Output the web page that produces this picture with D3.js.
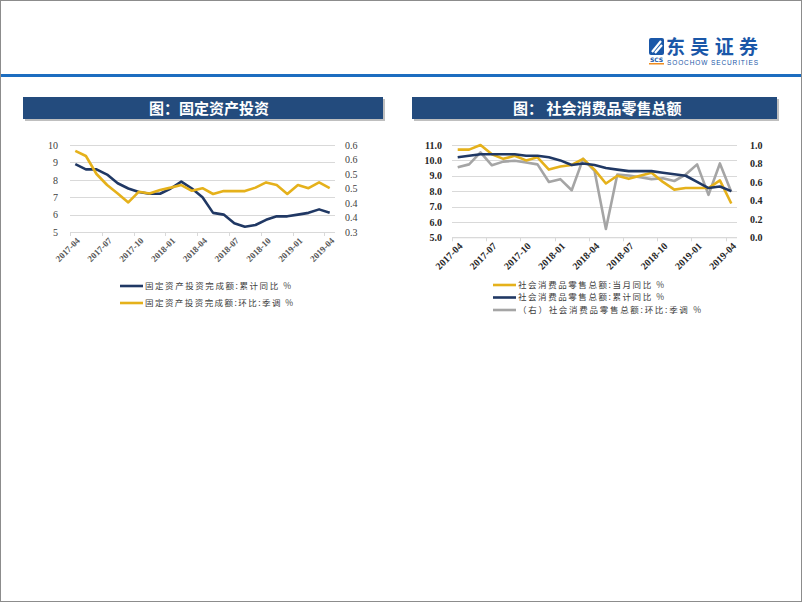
<!DOCTYPE html>
<html>
<head>
<meta charset="utf-8">
<script src="https://cdn.jsdelivr.net/npm/d3@7/dist/d3.min.js"></script>
<style>
  body { margin: 0; background: #fff; }
  svg { display: block; }
</style>
</head>
<body>
<div id="page"></div>
<script>
// month categories shared by both charts
const months = ["2017-04","2017-05","2017-06","2017-07","2017-08","2017-09","2017-10","2017-11","2017-12",
  "2018-01","2018-02","2018-03","2018-04","2018-05","2018-06","2018-07","2018-08","2018-09","2018-10",
  "2018-11","2018-12","2019-01","2019-02","2019-03","2019-04"];

// left chart: fixed asset investment
const faiCumYoY = [8.9,8.6,8.6,8.3,7.8,7.5,7.3,7.2,7.2,7.5,7.9,7.5,7.0,6.1,6.0,5.5,5.3,5.4,5.7,5.9,5.9,6.0,6.1,6.3,6.1];
const faiMoM = [0.58,0.562,0.5,0.462,0.433,0.402,0.439,0.433,0.445,0.453,0.462,0.442,0.451,0.431,0.441,0.441,0.441,0.453,0.471,0.462,0.431,0.462,0.451,0.471,0.451];
const faiLeftTicks = [5,6,7,8,9,10];
const faiRightTicks = [0.3,0.35,0.4,0.45,0.5,0.55,0.6];
const faiRightLabels = ["0.3","0.4","0.4","0.5","0.5","0.6","0.6"];

// right chart: retail sales
const retailYoY = [10.7,10.7,11.0,10.4,10.1,10.3,10.0,10.2,9.4,9.6,9.7,10.1,9.4,8.5,9.0,8.8,9.0,9.2,8.6,8.1,8.2,8.2,8.2,8.7,7.2];
const retailCumYoY = [10.2,10.3,10.4,10.4,10.4,10.4,10.3,10.3,10.2,10.0,9.7,9.8,9.7,9.5,9.4,9.3,9.3,9.3,9.2,9.1,9.0,8.6,8.2,8.3,8.0];
const retailMoM = [0.76,0.79,0.92,0.78,0.82,0.83,0.81,0.79,0.60,0.63,0.51,0.85,0.72,0.09,0.68,0.67,0.65,0.63,0.64,0.61,0.68,0.79,0.46,0.80,0.49];
const retailLeftTicks = [5,6,7,8,9,10,11];
const retailRightTicks = [0,0.2,0.4,0.6,0.8,1.0];

const NAVY = "#203864", GOLD = "#e5b11b", GREY = "#a5a5a5";
const CJK = "'Noto Sans CJK SC', sans-serif";
const SERIF = "'Liberation Serif', 'DejaVu Serif', serif";

const svg = d3.select("#page").append("svg")
  .attr("width", 802)
  .attr("height", 602);

// frame + header rule
svg.append("rect").attr("x", 0.5).attr("y", 0.5).attr("width", 801).attr("height", 601)
  .attr("fill", "#fff").attr("stroke", "#8c8c8c");
svg.append("rect").attr("x", 1).attr("y", 74).attr("width", 800).attr("height", 3).attr("fill", "#1c6dc0");

// logo
const logo = svg.append("g");
logo.append("rect").attr("x", 649).attr("y", 38).attr("width", 15).attr("height", 17).attr("rx", 2).attr("fill", "#1a57a8");
logo.append("path").attr("d", "M652,52 L661,41 M655,53 L662,45").attr("stroke", "#fff").attr("stroke-width", 2.2).attr("fill", "none");
logo.append("text").attr("x", 656.5).attr("y", 62).attr("text-anchor", "middle")
  .attr("font-family", "'DejaVu Sans', sans-serif").attr("font-weight", "bold").attr("font-size", 6)
  .attr("fill", "#1a57a8").text("SCS");
logo.append("rect").attr("x", 649).attr("y", 63).attr("width", 15).attr("height", 1.5).attr("fill", "#f08c1e");
logo.append("text").attr("x", 666).attr("y", 54).attr("font-family", CJK).attr("font-weight", "bold")
  .attr("font-size", 19).attr("fill", "#1a57a8").attr("textLength", 92).text("东吴证券");
logo.append("text").attr("x", 667).attr("y", 64.5).attr("font-family", "'Liberation Sans', sans-serif")
  .attr("font-size", 6.5).attr("fill", "#1a57a8").attr("textLength", 91).text("SOOCHOW SECURITIES");

// title banners
function banner(x, w, tx, label) {
  svg.append("rect").attr("x", x + 2).attr("y", 99).attr("width", w).attr("height", 22).attr("fill", "#bfbfbf");
  svg.append("rect").attr("x", x).attr("y", 97).attr("width", w).attr("height", 22).attr("fill", "#234b7d");
  svg.append("text").attr("x", tx).attr("y", 113.5).attr("font-family", CJK).attr("font-weight", "bold")
    .attr("font-size", 15).attr("fill", "#fff").text(label);
}
banner(23, 360, 149, "图：固定资产投资");
banner(412, 365, 513, "图： 社会消费品零售总额");

// generic dual-axis line chart
function lineChart(opt) {
  const g = svg.append("g");
  const x = d3.scaleBand().domain(months).range([opt.x0, opt.x1]).padding(0);
  const yL = d3.scaleLinear().domain(opt.leftDomain).range([opt.yBottom, opt.yTop]);
  const yR = d3.scaleLinear().domain(opt.rightDomain).range([opt.yBottom, opt.yTop]);

  // gridlines
  g.selectAll(".grid").data(opt.leftTicks).enter().append("line")
    .attr("x1", opt.x0).attr("x2", opt.x1)
    .attr("y1", d => Math.round(yL(d)) + 0.5).attr("y2", d => Math.round(yL(d)) + 0.5)
    .attr("stroke", "#d9d9d9").attr("stroke-width", 1);

  // left axis labels
  const left = d3.axisLeft(yL).tickValues(opt.leftTicks).tickSize(0).tickPadding(0).tickFormat(opt.leftFormat);
  const gl = g.append("g").attr("transform", `translate(${opt.leftLabelX},0)`).call(left);
  gl.select(".domain").remove();
  gl.selectAll("text").attr("font-family", SERIF).attr("font-size", opt.fontSize)
    .attr("font-weight", opt.bold ? "bold" : "normal").attr("fill", opt.textColor);

  // right axis labels
  const right = d3.axisRight(yR).tickValues(opt.rightTicks).tickSize(0).tickPadding(0)
    .tickFormat((d, i) => opt.rightLabels ? opt.rightLabels[i] : d3.format(".1f")(d));
  const gr = g.append("g").attr("transform", `translate(${opt.rightLabelX},0)`).call(right);
  gr.select(".domain").remove();
  gr.selectAll("text").attr("font-family", SERIF).attr("font-size", opt.fontSize)
    .attr("font-weight", opt.bold ? "bold" : "normal").attr("fill", opt.textColor);

  // x axis with ticks on every third boundary
  const step = x.bandwidth();
  const boundaries = d3.range(0, months.length + 1, 3);
  g.append("line").attr("x1", opt.x0).attr("x2", opt.x1)
    .attr("y1", opt.yBottom + 0.5).attr("y2", opt.yBottom + 0.5).attr("stroke", "#d9d9d9");
  g.selectAll(".tk").data(boundaries).enter().append("line")
    .attr("x1", d => Math.round(opt.x0 + d * step) + 0.5).attr("x2", d => Math.round(opt.x0 + d * step) + 0.5)
    .attr("y1", opt.yBottom).attr("y2", opt.yBottom + 4).attr("stroke", "#d9d9d9");
  g.selectAll(".xl").data(months.filter((m, i) => i % 3 === 0)).enter().append("text")
    .attr("transform", d => `translate(${x(d) + step / 2 + 3},${opt.yBottom + 7}) rotate(-45)`)
    .attr("text-anchor", "end").attr("dy", "0.35em")
    .attr("font-family", SERIF).attr("font-size", opt.xFontSize)
    .attr("font-weight", "bold").attr("fill", opt.xColor)
    .text(d => d);

  // series
  opt.series.forEach(s => {
    const ys = s.axis === "right" ? yR : yL;
    const line = d3.line().x((d, i) => x(months[i]) + step / 2).y(d => ys(d));
    g.append("path").datum(s.values).attr("d", line)
      .attr("fill", "none").attr("stroke", s.color).attr("stroke-width", 2.6)
      .attr("stroke-linejoin", "round");
  });

  // legend
  opt.series.forEach(s => {
    const ly = opt.legendY + s.legendRow * opt.legendGap;
    g.append("line").attr("x1", opt.legendX).attr("x2", opt.legendX + 23)
      .attr("y1", ly).attr("y2", ly).attr("stroke", s.color).attr("stroke-width", 2.6);
    g.append("text").attr("x", opt.legendX + 25).attr("y", ly).attr("dy", "0.35em")
      .attr("font-family", CJK).attr("font-size", 8.5).attr("fill", "#404040")
      .attr("textLength", s.legendLen).attr("lengthAdjust", "spacing")
      .text(s.name);
  });
}

lineChart({
  x0: 70, x1: 335, yTop: 145, yBottom: 232,
  leftDomain: [5, 10], rightDomain: [0.3, 0.6],
  leftTicks: faiLeftTicks, rightTicks: faiRightTicks, rightLabels: faiRightLabels,
  leftFormat: d3.format("d"),
  leftLabelX: 58, rightLabelX: 345,
  fontSize: 10, xFontSize: 9, bold: false, textColor: "#404040", xColor: "#595959",
  legendX: 120, legendY: 286, legendGap: 17,
  series: [
    { name: "固定资产投资完成额:累计同比 %", values: faiCumYoY, color: NAVY, axis: "left", legendRow: 0, legendLen: 146 },
    { name: "固定资产投资完成额:环比:季调 %", values: faiMoM, color: GOLD, axis: "right", legendRow: 1, legendLen: 148 }
  ]
});

lineChart({
  x0: 452, x1: 737, yTop: 145, yBottom: 237.3,
  leftDomain: [5, 11], rightDomain: [0, 1],
  leftTicks: retailLeftTicks, rightTicks: retailRightTicks,
  leftFormat: d3.format(".1f"),
  leftLabelX: 442, rightLabelX: 750,
  fontSize: 10, xFontSize: 10, bold: true, textColor: "#262626", xColor: "#262626",
  legendX: 493, legendY: 285, legendGap: 12.5,
  series: [
    { name: "（右）社会消费品零售总额:环比:季调 %", values: retailMoM, color: GREY, axis: "right", legendRow: 2, legendLen: 183 },
    { name: "社会消费品零售总额:当月同比 %", values: retailYoY, color: GOLD, axis: "left", legendRow: 0, legendLen: 146 },
    { name: "社会消费品零售总额:累计同比 %", values: retailCumYoY, color: NAVY, axis: "left", legendRow: 1, legendLen: 146 }
  ]
});
</script>
</body>
</html>
